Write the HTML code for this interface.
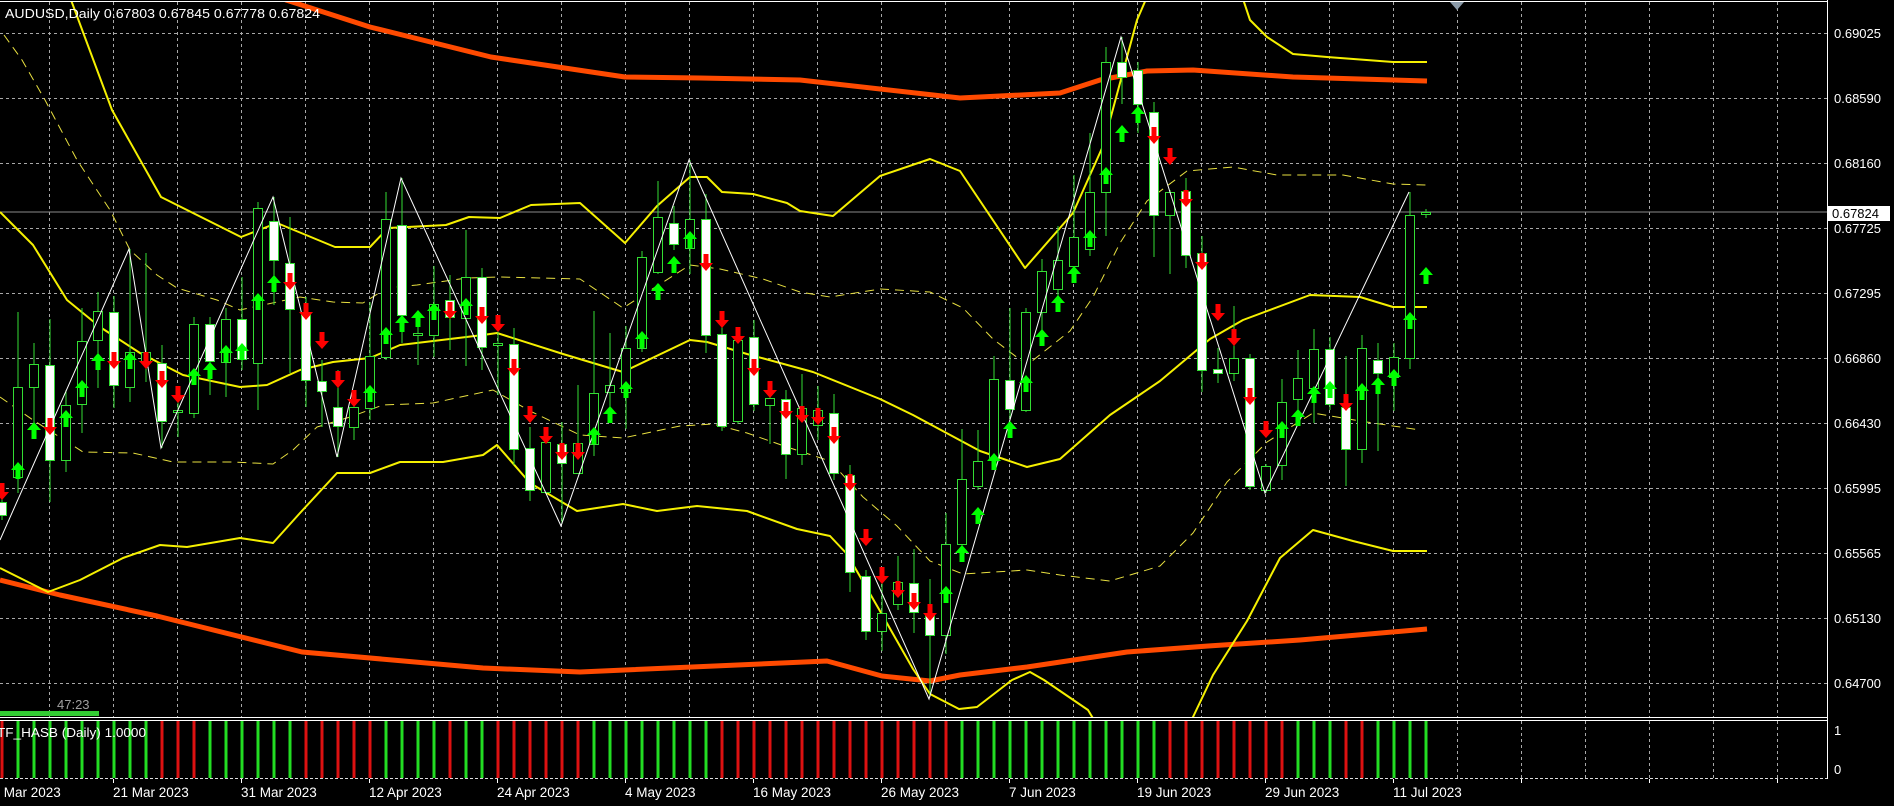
<!DOCTYPE html>
<html><head><meta charset="utf-8"><style>
html,body{margin:0;padding:0;background:#000;width:1894px;height:806px;overflow:hidden}
svg{display:block}
text{font-family:"Liberation Sans",sans-serif}
</style></head><body>
<svg id="s" width="1894" height="806" viewBox="0 0 1894 806" xmlns="http://www.w3.org/2000/svg">
<rect width="1894" height="806" fill="#000"/>
<defs><clipPath id="mc"><rect x="0" y="2" width="1827" height="715"/></clipPath></defs>
<g id="grid" stroke="#a8a8a8" stroke-width="1" stroke-dasharray="3,3"></g>
<g clip-path="url(#mc)">
<line x1="0" y1="212" x2="1827" y2="212" stroke="#8a8a8a" stroke-width="1"/>
<g fill="none" stroke-linejoin="round">
<polyline stroke="#ff4a00" stroke-width="5" points="280,-5 286,0 370,27 491,57 625,77 700,78 800,80 960,98 1060,93 1100,80 1147,71 1193,70 1293,77 1427,81"/>
<polyline stroke="#ff4a00" stroke-width="5" points="0,580 60,595 157,616 302,652 483,668 580,672 827,661 882,676 930,681 960,675 1027,667 1127,652 1208,646 1300,640 1427,629"/>
<polyline stroke="#f5f000" stroke-width="2" points="60,-10 71,0 112,110 161,197 241,237 277,223 335,247 370,247 388,228 446,225 469,217 500,218 531,205 580,203 625,243 657,206 690,177 707,177 722,192 753,194 787,203 800,211 833,216 880,176 930,159 960,171 1025,268 1073,213 1103,146 1137,20 1150,-10"/>
<polyline stroke="#f5f000" stroke-width="2" points="1240,-10 1250,20 1267,37 1293,54 1327,57 1393,62 1427,62"/>
<polyline stroke="#f5f000" stroke-width="2" points="0,212 33,245 67,300 100,327 140,353 183,375 240,387 267,385 300,370 333,362 370,358 400,345 483,335 497,333 563,354 623,372 690,340 707,342 747,354 813,372 880,399 913,415 980,451 1027,467 1060,459 1110,415 1160,381 1210,339 1243,320 1310,295 1360,297 1393,307 1427,307"/>
<polyline stroke="#f5f000" stroke-width="2" points="0,568 48,592 80,580 123,558 160,545 187,547 240,538 273,543 300,513 337,473 370,473 400,462 443,462 483,455 497,445 530,483 577,511 623,504 657,511 697,506 747,511 797,529 830,536 847,554 880,611 913,669 930,694 959,709 977,707 1012,680 1030,672 1044,680 1088,710 1100,730"/>
<polyline stroke="#f5f000" stroke-width="2" points="1185,730 1193,717 1213,675 1247,621 1280,558 1313,530 1353,541 1393,551 1427,551"/>
<polyline stroke="#e8e040" stroke-width="1" stroke-dasharray="9,6" points="4,35 22,60 45,100 77,160 110,210 130,250 157,275 177,288 217,300 240,310 300,297 333,302 363,303 387,288 417,285 467,278 500,277 580,279 623,308 657,286 690,265 720,269 763,279 800,292 830,297 880,289 930,292 963,308 993,339 1027,365 1070,331 1093,297 1120,243 1147,201 1187,171 1233,167 1277,175 1343,175 1393,184 1427,185"/>
<polyline stroke="#e8e040" stroke-width="1" stroke-dasharray="9,6" points="0,397 33,420 83,452 133,453 173,462 233,462 273,464 293,450 317,427 350,417 383,405 433,403 493,390 530,411 580,435 623,438 680,426 713,424 747,433 787,447 830,461 863,497 897,526 930,561 963,574 1027,570 1060,575 1110,581 1160,566 1193,533 1227,482 1267,442 1313,413 1360,421 1420,430"/>
</g>
<g id="candles"></g>
<polyline fill="none" stroke="#fff" stroke-width="1" points="0,540 129,249 161,448 273,197 337,457 401,178 561,526 689,160 929,699 1121,37 1265,493 1409,192"/>
<g id="arrows"></g>
</g>
<g id="sub"></g>
<!-- frames -->
<line x1="0" y1="1.5" x2="1827" y2="1.5" stroke="#fff"/>
<line x1="1827.5" y1="0" x2="1827.5" y2="779" stroke="#fff"/>
<line x1="0" y1="717.5" x2="1827" y2="717.5" stroke="#fff"/>
<line x1="0" y1="720.5" x2="1827" y2="720.5" stroke="#fff"/>
<line x1="0" y1="778.5" x2="1827" y2="778.5" stroke="#ddd" stroke-dasharray="3,2"/>
<polygon points="1450,2 1464,2 1457,10" fill="#8a9aa8"/>
<text x="5" y="18" fill="#fff" font-size="13" textLength="315" lengthAdjust="spacingAndGlyphs">AUDUSD,Daily  0.67803 0.67845 0.67778 0.67824</text>
<text x="57" y="709" fill="#a0a0a0" font-size="13">47:23</text>
<rect x="0" y="711" width="99" height="5" fill="#33cc33"/>
<text x="-3" y="737" fill="#fff" font-size="13" textLength="149" lengthAdjust="spacingAndGlyphs">TF_HASB (Daily) 1.0000</text>
<g fill="#fff" font-size="13">
<text x="1834" y="38">0.69025</text>
<text x="1834" y="103">0.68590</text>
<text x="1834" y="168">0.68160</text>
<text x="1834" y="233">0.67725</text>
<text x="1834" y="298">0.67295</text>
<text x="1834" y="363">0.66860</text>
<text x="1834" y="428">0.66430</text>
<text x="1834" y="493">0.65995</text>
<text x="1834" y="558">0.65565</text>
<text x="1834" y="623">0.65130</text>
<text x="1834" y="688">0.64700</text>
<text x="1834" y="735">1</text>
<text x="1834" y="774">0</text>
</g>
<rect x="1828" y="206" width="62" height="15" fill="#fff"/>
<text x="1832" y="218" fill="#000" font-size="13">0.67824</text>
<g fill="#fff" font-size="13.5">
<text x="-15" y="797">10 Mar 2023</text>
<text x="113" y="797">21 Mar 2023</text>
<text x="241" y="797">31 Mar 2023</text>
<text x="369" y="797">12 Apr 2023</text>
<text x="497" y="797">24 Apr 2023</text>
<text x="625" y="797">4 May 2023</text>
<text x="753" y="797">16 May 2023</text>
<text x="881" y="797">26 May 2023</text>
<text x="1009" y="797">7 Jun 2023</text>
<text x="1137" y="797">19 Jun 2023</text>
<text x="1265" y="797">29 Jun 2023</text>
<text x="1393" y="797">11 Jul 2023</text>
</g>
<g id="ticks" stroke="#fff"></g>
</svg>
<script>
var NS="http://www.w3.org/2000/svg";
function el(p,t,a){var e=document.createElementNS(NS,t);for(var k in a)e.setAttribute(k,a[k]);p.appendChild(e);return e;}
var g=document.getElementById('grid');
for(var k=0;k<11;k++){var y=33+65*k+0.5;el(g,'line',{x1:0,y1:y,x2:1827,y2:y});}
for(var x=49.5;x<1827;x+=64){el(g,'line',{x1:x,y1:2,x2:x,y2:717});el(g,'line',{x1:x,y1:721,x2:x,y2:778});}
var tk=document.getElementById('ticks');
for(var x=113.5;x<1827;x+=128){el(tk,'line',{x1:x,y1:779,x2:x,y2:783});}
var C=[[495,502,515,520,'W','r',483],[312,387,477,493,'H','g',462],[343,364,387,423,'H','g',422],[319,365,460,502,'W','r',418],[390,405,460,472,'H','g',410],[308,341,404,433,'H','g',380],[292,311,340,388,'H','g',353],[296,312,385,408,'W','r',352],[249,352,387,402,'H','g',352],[253,352,362,382,'H','r',352],
[345,363,421,448,'W','r',371],[395,410,412,437,'H','r',386],[317,324,413,418,'H','g',368],[317,324,361,395,'W','g',362],[308,319,362,397,'H','g',345],[277,319,359,370,'W','g',343],[202,208,363,410,'H','g',293],[197,221,260,305,'W','g',275],[217,263,309,373,'W','r',273],[297,314,380,407,'W','r',303],
[360,381,391,427,'W','r',332],[370,407,426,457,'W','r',371],[393,407,427,440,'H','r',390],[302,356,408,420,'H','g',385],[192,219,357,360,'H','g',327],[178,225,315,343,'W','g',315],[312,333,335,365,'H','g',310],[266,304,335,357,'H','g',303],[275,300,317,350,'W','r',302],[230,277,318,366,'H','g',298],
[268,277,347,370,'W','r',307],[330,343,345,395,'H','r',315],[328,344,449,465,'W','r',359],[427,448,490,501,'W','r',406],[436,442,492,494,'H','r',427],[422,444,463,524,'W','r',443],[385,443,473,474,'H','r',443],[311,393,444,456,'H','g',427],[333,385,392,420,'H','g',406],[326,348,392,429,'H','g',381],
[251,257,348,352,'H','g',331],[181,217,272,274,'H','g',283],[206,223,244,250,'W','g',256],[160,219,248,274,'H','g',231],[194,219,335,353,'W','r',254],[325,334,426,431,'W','r',311],[331,340,421,424,'H','r',327],[320,337,404,411,'W','r',359],[390,398,405,444,'H','r',381],[390,399,454,479,'W','r',402],
[374,408,454,465,'H','r',406],[386,410,425,440,'H','r',408],[394,413,473,480,'W','r',427],[465,475,572,592,'W','r',474],[570,576,631,640,'W','r',529],[567,613,631,651,'H','r',567],[556,582,604,610,'H','r',581],[549,583,612,633,'W','r',593],[579,615,635,697,'W','r',604],[513,544,635,654,'H','g',586],
[429,479,544,560,'H','g',545],[430,461,486,490,'H','g',507],[356,379,459,462,'H','g',453],[308,380,409,420,'W','g',421],[308,312,410,412,'H','g',375],[259,271,312,340,'H','g',329],[226,260,289,300,'H','g',295],[175,237,266,278,'H','g',266],[133,192,249,256,'H','g',230],[47,62,192,236,'H','g',167],
[37,62,77,104,'W','g',125],[62,70,104,133,'W','g',106],[102,112,215,257,'W','r',127],[190,192,215,274,'H','r',148],[178,191,255,268,'W','r',190],[236,253,370,392,'W','r',253],[348,369,373,383,'W','r',304],[306,358,373,381,'H','r',329],[354,358,486,490,'W','r',388],[464,466,490,493,'H','r',421],
[379,402,465,480,'H','g',421],[350,378,399,410,'H','g',409],[329,349,388,423,'H','g',386],[337,349,404,410,'W','g',381],[356,407,449,486,'W','r',394],[335,348,449,463,'H','g',383],[343,360,373,451,'W','g',377],[343,357,377,411,'H','g',369],[192,215,358,369,'H','g',312],[209,212,214,218,'H','g',267]];
var cg=document.getElementById('candles'),ag=document.getElementById('arrows');
for(var i=0;i<C.length;i++){var c=C[i],x=1.5+16*i;
el(cg,'line',{x1:x+0.5,y1:c[0],x2:x+0.5,y2:c[3],stroke:'#33dd33','stroke-width':1});
var h=Math.max(c[2]-c[1],2);
el(cg,'rect',{x:x-4,y:c[1]+0.5,width:9,height:h,fill:c[4]=='W'?'#fff':'#000',stroke:'#33dd33','stroke-width':1});
var y=c[6],ax=x+0.5,pts;
if(c[5]=='g'){pts=[ax,y,ax+7,y+8,ax+2.5,y+8,ax+2.5,y+17,ax-2.5,y+17,ax-2.5,y+8,ax-7,y+8];el(ag,'polygon',{points:pts.join(' '),fill:'#00ff00'});}
else{pts=[ax,y+17,ax+7,y+9,ax+2.5,y+9,ax+2.5,y,ax-2.5,y,ax-2.5,y+9,ax-7,y+9];el(ag,'polygon',{points:pts.join(' '),fill:'#ff0000'});}
}
var S='rgggggggggrrrggggggrrrrrggggrggrrrrrrgggggggg' +'rrrrrrrrrrrrrrr'+'ggggggggggggg'+'rrrrrrrr'+'ggg'+'rr'+'gggg';
var sg=document.getElementById('sub');
for(var i=0;i<S.length;i++){el(sg,'rect',{x:1.5+16*i-1,y:721,width:3,height:57,fill:S[i]=='g'?'#22dd22':'#dd1111'});}
</script>
</body></html>
